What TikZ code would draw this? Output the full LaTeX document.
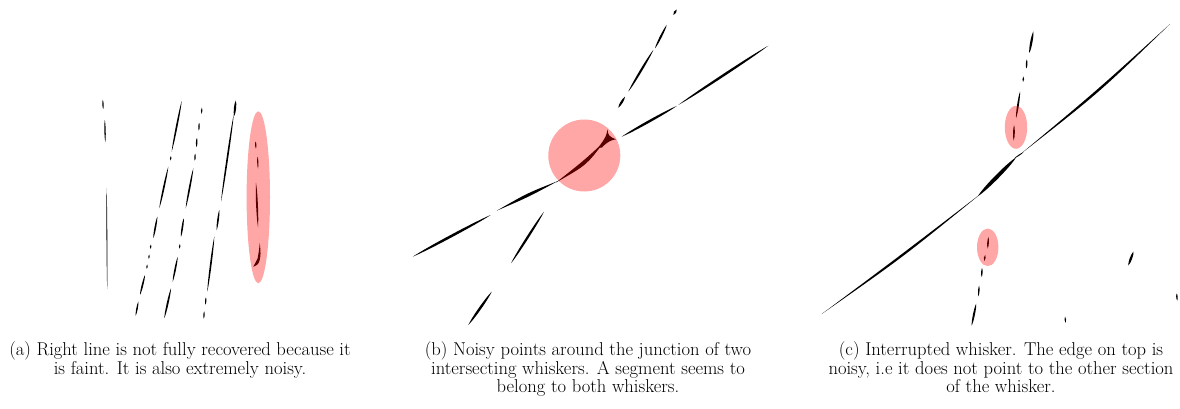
\documentclass[tikz,border=0pt]{standalone}
\usetikzlibrary{calc}
\tikzset{
  whisk/.style={fill=black},
  hl/.style={fill=red,opacity=0.35},
  captext/.style={anchor=north,align=center,inner sep=0pt,font=\fontsize{18.6}{18.9}\selectfont}
}
% straight tapered whisker: x1 y1 x2 y2 halfwidth
\newcommand\wsk[5]{%
  \coordinate (wA) at (#1,#2); \coordinate (wB) at (#3,#4);
  \fill[whisk] (wA) .. controls ($(wA)!0.2!(wB)!#5!90:(wB)$) and ($(wB)!0.2!(wA)!#5!-90:(wA)$) .. (wB)
     .. controls ($(wB)!0.2!(wA)!#5!90:(wA)$) and ($(wA)!0.2!(wB)!#5!-90:(wB)$) .. (wA) -- cycle;}
% curved tapered whisker: x1 y1 xc yc x2 y2 halfwidth
\newcommand\cwsk[7]{%
  \coordinate (wA) at (#1,#2); \coordinate (wC) at (#3,#4); \coordinate (wB) at (#5,#6);
  \coordinate (wN) at ($(wA)!#7!90:(wB)$);
  \fill[whisk] (wA) .. controls ($(wC)+(wN)-(wA)$) .. (wB) .. controls ($(wC)-(wN)+(wA)$) .. (wA) -- cycle;}
\begin{document}
\begin{tikzpicture}[x=1pt,y=-1pt]
\useasboundingbox (0,0) rectangle (1180,409);
% ---------------- panel (a)
\wsk{102.8}{100}{103.2}{109}{0.9pt}
\wsk{104.8}{120}{105.3}{142}{0.9pt}
\wsk{106.6}{188}{107.2}{289}{0.55pt}
% line 2
\wsk{181.7}{101}{171.7}{151.7}{1.1pt}
\wsk{170.9}{156}{170.5}{160.5}{1pt}
\wsk{168.3}{166.7}{159.3}{208.3}{1.1pt}
\wsk{157.3}{216.7}{153.3}{238.3}{1.1pt}
\wsk{150.9}{244.5}{150.5}{248.8}{1pt}
\wsk{149.2}{254.5}{148.8}{258.8}{1pt}
\wsk{147.2}{264.5}{146.8}{268.8}{1pt}
\wsk{145}{275}{140}{295}{1.1pt}
\wsk{138.3}{301.7}{135.7}{315.7}{1pt}
% line 3
\wsk{201.9}{107.5}{201.5}{114}{1pt}
\wsk{199.2}{122.8}{198.8}{130.5}{1pt}
\wsk{196.9}{137.8}{196.5}{147.2}{1pt}
\wsk{195.2}{153.8}{194.8}{160.5}{1pt}
\wsk{193.3}{168.3}{185.7}{208.3}{1.1pt}
\wsk{183.7}{218.3}{181}{236.7}{1.1pt}
\wsk{179.9}{244}{179.5}{248.6}{1pt}
\wsk{177.7}{256.7}{172.7}{281.7}{1.1pt}
\wsk{171}{288.3}{164.3}{318.3}{1.2pt}
% line 4
\wsk{235.8}{100.5}{234.2}{116}{1.5pt}
\wsk{233.8}{114}{221}{201.7}{1.1pt}
\wsk{219.3}{210}{216.7}{230}{1.1pt}
\wsk{214.3}{236.7}{207.3}{291.7}{1.1pt}
\wsk{205.9}{297.4}{205.5}{304.6}{0.9pt}
\wsk{204.2}{311.4}{203.8}{318.6}{0.9pt}
% faint line inside ellipse
\wsk{255.6}{141.5}{255.9}{148.5}{0.9pt}
\wsk{257.6}{156.5}{258}{168.5}{0.8pt}
\wsk{256}{183}{258}{227}{1.2pt}
\fill[whisk] (259.8,243) .. controls (260.8,254) .. (259.6,260.5)
   .. controls (258,264.5) .. (253.3,266.8)
   .. controls (255.8,262.5) .. (257.6,258.5)
   .. controls (258.8,252) .. (259.8,243) -- cycle;
\fill[hl] (258.3,197.3) ellipse [x radius=11.7pt, y radius=86pt];
% ---------------- panel (b)
% shallow whisker
\wsk{412.7}{256.7}{490.7}{215}{1.7pt}
\cwsk{496.7}{210.7}{528}{195}{558}{181}{2pt}
\cwsk{556}{182.5}{585}{163}{604}{142}{2.6pt}
\fill[whisk] (598,148) -- (603,141) .. controls (606,136) .. (607.7,129.3)
   .. controls (607.8,134.5) and (608.5,136.5) .. (616,139.3)
   .. controls (611,140) and (607,142) .. (602,147.5) -- cycle;
\wsk{621.7}{136.7}{676.7}{106}{1.6pt}
\wsk{678.3}{105}{768.3}{45.7}{1.6pt}
% steep whisker
\wsk{468.3}{325}{491.7}{291.7}{1.6pt}
\wsk{511}{263.3}{544}{211.7}{1.5pt}
\wsk{618.3}{107.7}{625}{96.7}{1.5pt}
\wsk{628.3}{91.7}{653.3}{50}{1.4pt}
\wsk{655}{48.3}{666.7}{25}{1.3pt}
\wsk{673.3}{15}{676.7}{9.5}{1.6pt}
\fill[hl] (584.3,155.5) circle [radius=36pt];
% ---------------- panel (c)
\cwsk{821.7}{314}{902}{256}{983}{192}{1.5pt}
\wsk{978}{196}{1016}{157.5}{2.6pt}
\wsk{1014}{158.5}{1023.5}{152.2}{0.7pt}
\cwsk{1020}{154.5}{1098.2}{91.4}{1170}{24}{1.6pt}
% upper steep whisker
\wsk{1033.3}{31.5}{1029.3}{53}{1.5pt}
\wsk{1026.8}{59.5}{1026.4}{68.5}{1.1pt}
\wsk{1023.4}{76.5}{1023.1}{82}{1.1pt}
\wsk{1020}{91.7}{1016}{118.3}{1.2pt}
\wsk{1014.1}{125}{1013.7}{140.5}{1.2pt}
\fill[hl] (1016,127.3) ellipse [x radius=11.2pt, y radius=21.5pt];
% lower steep whisker
\wsk{988.4}{237}{987.7}{248.5}{1.1pt}
\wsk{985.2}{254.8}{984.3}{261}{1.2pt}
\wsk{982}{268}{981.7}{277}{1pt}
\wsk{979.1}{285.7}{978.4}{296.3}{1pt}
\wsk{976.2}{303.5}{971.7}{325.5}{1.3pt}
\fill[hl] (987.7,247.3) ellipse [x radius=10.7pt, y radius=18.8pt];
% noise
\wsk{1133.5}{251.5}{1128.3}{265.5}{1.6pt}
\wsk{1176.7}{293.5}{1177.2}{300.5}{1pt}
\wsk{1065}{316.5}{1065.6}{323}{1pt}
% ---------------- captions
\node[captext] (capa) at (180,341) {(a) Right line is not fully recovered because it\\is faint. It is also extremely noisy.};
\node[captext] (capb) at (588,341) {(b) Noisy points around the junction of two\\intersecting whiskers. A segment seems to\\belong to both whiskers.};
\node[captext] (capc) at (1001,341) {(c) Interrupted whisker. The edge on top is\\noisy, i.e it does not point to the other section\\of the whisker.};
\end{tikzpicture}
\end{document}
